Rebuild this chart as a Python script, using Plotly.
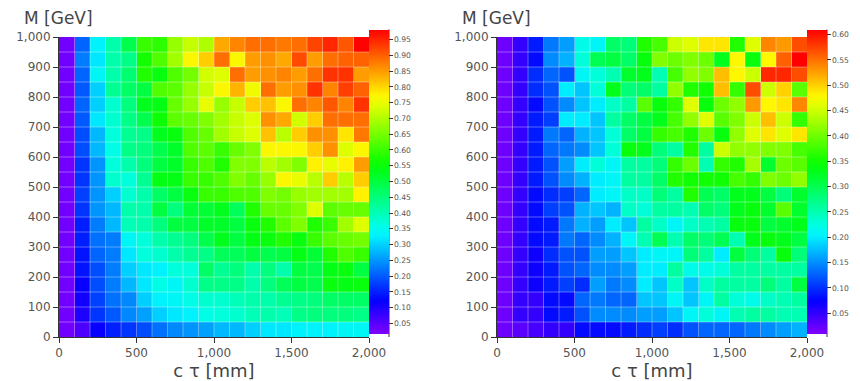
import colorsys
import plotly.graph_objects as go

# ---- data ----
ct_centers = [50 + 100 * i for i in range(20)]            # c tau bin centres [mm]
m_centers = [975 - 50 * i for i in range(20)]             # M bin centres [GeV], top row first
x_ticks = [0, 500, 1000, 1500, 2000]
y_ticks = [0, 100, 200, 300, 400, 500, 600, 700, 800, 900, 1000]
cb_ticks_left = [round(0.05 * i, 2) for i in range(1, 20)]
cb_ticks_right = [round(0.05 * i, 2) for i in range(1, 13)]

eff_left = [
    [0.03, 0.21, 0.33, 0.41, 0.49, 0.60, 0.59, 0.68, 0.72, 0.70, 0.84, 0.87, 0.89, 0.89, 0.88, 0.89, 0.925, 0.95, 0.91, 0.98],
    [0.03, 0.23, 0.32, 0.41, 0.44, 0.57, 0.62, 0.69, 0.77, 0.81, 0.89, 0.77, 0.85, 0.86, 0.84, 0.92, 0.85, 0.89, 0.90, 0.90],
    [0.03, 0.21, 0.34, 0.41, 0.46, 0.58, 0.55, 0.62, 0.65, 0.73, 0.74, 0.89, 0.85, 0.86, 0.87, 0.85, 0.89, 0.94, 0.94, 0.85],
    [0.03, 0.20, 0.30, 0.43, 0.47, 0.50, 0.62, 0.63, 0.68, 0.72, 0.77, 0.83, 0.76, 0.89, 0.85, 0.86, 0.94, 0.87, 0.93, 0.90],
    [0.03, 0.21, 0.30, 0.38, 0.45, 0.53, 0.54, 0.64, 0.68, 0.75, 0.68, 0.72, 0.81, 0.82, 0.77, 0.89, 0.87, 0.91, 0.87, 0.94],
    [0.03, 0.20, 0.32, 0.38, 0.44, 0.49, 0.56, 0.63, 0.64, 0.66, 0.69, 0.72, 0.74, 0.86, 0.84, 0.73, 0.81, 0.89, 0.89, 0.89],
    [0.03, 0.19, 0.28, 0.37, 0.43, 0.44, 0.53, 0.55, 0.62, 0.64, 0.69, 0.72, 0.74, 0.82, 0.71, 0.81, 0.86, 0.86, 0.79, 0.88],
    [0.03, 0.19, 0.28, 0.36, 0.44, 0.45, 0.49, 0.52, 0.62, 0.63, 0.60, 0.64, 0.66, 0.77, 0.77, 0.77, 0.81, 0.86, 0.74, 0.77],
    [0.03, 0.17, 0.25, 0.37, 0.41, 0.45, 0.50, 0.52, 0.60, 0.62, 0.58, 0.66, 0.66, 0.71, 0.69, 0.66, 0.78, 0.75, 0.78, 0.85],
    [0.03, 0.17, 0.25, 0.38, 0.37, 0.43, 0.54, 0.54, 0.60, 0.60, 0.62, 0.66, 0.64, 0.68, 0.77, 0.75, 0.71, 0.81, 0.71, 0.81],
    [0.03, 0.18, 0.25, 0.30, 0.38, 0.41, 0.47, 0.50, 0.55, 0.60, 0.60, 0.62, 0.62, 0.66, 0.65, 0.68, 0.69, 0.69, 0.69, 0.78],
    [0.03, 0.17, 0.25, 0.28, 0.41, 0.41, 0.50, 0.45, 0.51, 0.51, 0.53, 0.48, 0.58, 0.64, 0.64, 0.66, 0.74, 0.63, 0.64, 0.64],
    [0.03, 0.15, 0.23, 0.28, 0.40, 0.41, 0.45, 0.50, 0.50, 0.52, 0.52, 0.50, 0.55, 0.58, 0.63, 0.66, 0.58, 0.60, 0.69, 0.74],
    [0.03, 0.15, 0.22, 0.23, 0.34, 0.37, 0.41, 0.43, 0.45, 0.49, 0.53, 0.50, 0.54, 0.55, 0.58, 0.55, 0.60, 0.63, 0.64, 0.65],
    [0.03, 0.14, 0.21, 0.23, 0.32, 0.37, 0.38, 0.41, 0.43, 0.44, 0.48, 0.48, 0.50, 0.49, 0.50, 0.54, 0.51, 0.58, 0.62, 0.60],
    [0.03, 0.14, 0.19, 0.23, 0.30, 0.32, 0.33, 0.37, 0.37, 0.47, 0.43, 0.45, 0.41, 0.45, 0.41, 0.50, 0.49, 0.54, 0.55, 0.50],
    [0.03, 0.12, 0.19, 0.23, 0.28, 0.32, 0.36, 0.34, 0.38, 0.44, 0.44, 0.44, 0.41, 0.45, 0.48, 0.50, 0.49, 0.55, 0.54, 0.55],
    [0.03, 0.11, 0.18, 0.22, 0.24, 0.30, 0.33, 0.34, 0.36, 0.38, 0.38, 0.40, 0.41, 0.41, 0.43, 0.44, 0.45, 0.47, 0.47, 0.47],
    [0.03, 0.10, 0.17, 0.20, 0.24, 0.26, 0.30, 0.32, 0.33, 0.36, 0.37, 0.38, 0.40, 0.41, 0.40, 0.44, 0.45, 0.45, 0.45, 0.44],
    [0.03, 0.06, 0.12, 0.15, 0.17, 0.19, 0.22, 0.24, 0.25, 0.26, 0.28, 0.28, 0.30, 0.32, 0.32, 0.33, 0.33, 0.33, 0.34, 0.34],
]

eff_right = [
    [0.02, 0.05, 0.09, 0.14, 0.16, 0.22, 0.21, 0.29, 0.28, 0.36, 0.38, 0.45, 0.46, 0.49, 0.49, 0.36, 0.46, 0.54, 0.53, 0.57],
    [0.02, 0.05, 0.08, 0.15, 0.17, 0.23, 0.30, 0.31, 0.29, 0.34, 0.41, 0.40, 0.41, 0.40, 0.33, 0.48, 0.34, 0.48, 0.56, 0.61],
    [0.02, 0.05, 0.10, 0.13, 0.12, 0.21, 0.23, 0.25, 0.32, 0.33, 0.25, 0.38, 0.42, 0.41, 0.51, 0.48, 0.45, 0.59, 0.59, 0.57],
    [0.02, 0.05, 0.10, 0.12, 0.20, 0.18, 0.23, 0.33, 0.28, 0.29, 0.26, 0.42, 0.36, 0.35, 0.51, 0.37, 0.57, 0.45, 0.50, 0.39],
    [0.02, 0.05, 0.08, 0.12, 0.15, 0.18, 0.20, 0.24, 0.26, 0.39, 0.34, 0.37, 0.46, 0.34, 0.40, 0.42, 0.53, 0.48, 0.49, 0.54],
    [0.02, 0.05, 0.09, 0.11, 0.20, 0.20, 0.18, 0.26, 0.29, 0.31, 0.33, 0.38, 0.42, 0.46, 0.39, 0.41, 0.45, 0.51, 0.45, 0.37],
    [0.02, 0.05, 0.09, 0.14, 0.13, 0.17, 0.18, 0.23, 0.29, 0.31, 0.37, 0.38, 0.36, 0.40, 0.34, 0.42, 0.46, 0.49, 0.46, 0.49],
    [0.02, 0.05, 0.09, 0.13, 0.14, 0.15, 0.18, 0.23, 0.34, 0.33, 0.28, 0.26, 0.36, 0.26, 0.45, 0.42, 0.42, 0.41, 0.41, 0.38],
    [0.02, 0.05, 0.09, 0.12, 0.16, 0.20, 0.23, 0.21, 0.26, 0.26, 0.28, 0.37, 0.40, 0.25, 0.37, 0.36, 0.43, 0.32, 0.40, 0.39],
    [0.02, 0.05, 0.09, 0.12, 0.15, 0.17, 0.20, 0.21, 0.26, 0.26, 0.29, 0.36, 0.35, 0.35, 0.35, 0.38, 0.37, 0.41, 0.40, 0.42],
    [0.02, 0.05, 0.08, 0.10, 0.11, 0.13, 0.20, 0.21, 0.24, 0.24, 0.28, 0.26, 0.36, 0.30, 0.29, 0.33, 0.33, 0.31, 0.28, 0.32],
    [0.02, 0.05, 0.08, 0.11, 0.12, 0.17, 0.18, 0.17, 0.24, 0.23, 0.26, 0.26, 0.25, 0.29, 0.28, 0.33, 0.34, 0.32, 0.39, 0.32],
    [0.02, 0.05, 0.08, 0.09, 0.14, 0.17, 0.16, 0.20, 0.18, 0.26, 0.24, 0.21, 0.24, 0.25, 0.26, 0.34, 0.34, 0.31, 0.32, 0.33],
    [0.02, 0.05, 0.08, 0.09, 0.14, 0.13, 0.15, 0.17, 0.21, 0.25, 0.30, 0.25, 0.29, 0.28, 0.30, 0.25, 0.33, 0.34, 0.33, 0.31],
    [0.02, 0.05, 0.07, 0.10, 0.12, 0.12, 0.16, 0.16, 0.18, 0.20, 0.21, 0.21, 0.28, 0.26, 0.20, 0.31, 0.28, 0.26, 0.34, 0.28],
    [0.02, 0.05, 0.07, 0.09, 0.12, 0.13, 0.15, 0.15, 0.16, 0.20, 0.20, 0.26, 0.22, 0.22, 0.23, 0.26, 0.26, 0.26, 0.26, 0.26],
    [0.02, 0.05, 0.07, 0.09, 0.11, 0.10, 0.16, 0.14, 0.15, 0.20, 0.18, 0.24, 0.18, 0.24, 0.26, 0.26, 0.26, 0.28, 0.26, 0.31],
    [0.02, 0.05, 0.05, 0.08, 0.08, 0.13, 0.14, 0.13, 0.13, 0.18, 0.18, 0.21, 0.18, 0.21, 0.26, 0.23, 0.22, 0.24, 0.25, 0.26],
    [0.02, 0.05, 0.05, 0.08, 0.09, 0.12, 0.15, 0.15, 0.15, 0.16, 0.16, 0.18, 0.21, 0.23, 0.21, 0.25, 0.26, 0.26, 0.25, 0.25],
    [0.02, 0.03, 0.04, 0.05, 0.05, 0.08, 0.08, 0.08, 0.09, 0.10, 0.11, 0.10, 0.12, 0.13, 0.13, 0.13, 0.14, 0.15, 0.16, 0.17],
]

# ---- style ----
def hue_scale(n=28):
    stops = []
    for i in range(n + 1):
        t = i / n
        r, g, b = colorsys.hsv_to_rgb((270.0 * (1 - t)) / 360.0, 1.0, 1.0)
        stops.append([t, f"rgb({int(round(r*255))},{int(round(g*255))},{int(round(b*255))})"])
    return stops

CS = hue_scale()
FONT = "DejaVu Sans"
TICKC = "#555555"
LINEC = "#333333"

# page body adds an 8px offset, so the figure is sized to fit the remaining window
W, H = 852, 373
ML, MR, MT, MB = 51, 53, 29, 44
PW = W - ML - MR
dom_left = [0.0, 310 / PW]
dom_right = [(438) / PW, 1.0]

fig = go.Figure()

def cbar(xpos, ticks):
    return dict(
        x=xpos, xanchor="left", xpad=0, thickness=20,
        y=1.025, yanchor="top", ypad=0, len=1.013, lenmode="fraction",
        outlinewidth=0, ticks="outside", ticklen=4, tickwidth=1, tickcolor=LINEC,
        tickvals=ticks, ticktext=[f"{v:.2f}" for v in ticks],
        tickfont=dict(family=FONT, size=7.6, color=TICKC),
    )

fig.add_trace(go.Heatmap(
    x=ct_centers, y=m_centers, z=eff_left, zmin=0.018, zmax=0.982,
    colorscale=CS, colorbar=cbar(dom_left[1], cb_ticks_left),
    xaxis="x", yaxis="y", hoverinfo="skip",
))
fig.add_trace(go.Heatmap(
    x=ct_centers, y=m_centers, z=eff_right, zmin=0.01, zmax=0.61,
    colorscale=CS, colorbar=cbar(dom_right[1], cb_ticks_right),
    xaxis="x2", yaxis="y2", hoverinfo="skip",
))

def xax(dom, anchor):
    return dict(
        domain=dom, anchor=anchor, range=[0, 2000], tickvals=x_ticks, tickformat=",",
        showgrid=False, zeroline=False, showline=True, linecolor=LINEC, linewidth=1,
        ticks="outside", ticklen=5, tickcolor=LINEC,
        tickfont=dict(family=FONT, size=12, color=TICKC),
        title=dict(text="c τ [mm]", font=dict(family=FONT, size=18, color="#444444"), standoff=4),
    )

def yax(anchor):
    return dict(
        domain=[0, 1], anchor=anchor, range=[0, 1000], tickvals=y_ticks, tickformat=",",
        showgrid=False, zeroline=False, showline=True, linecolor=LINEC, linewidth=1,
        ticks="outside", ticklen=5, tickcolor=LINEC,
        tickfont=dict(family=FONT, size=12, color=TICKC),
    )

shapes = []
for xa, ya in (("x", "y"), ("x2", "y2")):
    for xv in range(100, 2000, 100):
        shapes.append(dict(type="line", xref=xa, yref=ya, x0=xv, x1=xv, y0=0, y1=1000,
                           line=dict(color="rgba(255,255,255,0.35)", width=1), layer="above"))
    for yv in range(50, 1000, 50):
        shapes.append(dict(type="line", xref=xa, yref=ya, x0=0, x1=2000, y0=yv, y1=yv,
                           line=dict(color="rgba(255,255,255,0.35)", width=1), layer="above"))

# colorbar axis lines
for xr in (dom_left[1], dom_right[1]):
    xp = xr + 20 / PW
    shapes.append(dict(type="line", xref="paper", yref="paper", x0=xp, x1=xp, y0=0, y1=1.025,
                       line=dict(color=LINEC, width=1)))

annotations = []
for d in (dom_left, dom_right):
    annotations.append(dict(
        text="M [GeV]", xref="paper", yref="paper", x=d[0] - 37 / PW, y=1.0 + 19 / 300,
        xanchor="left", yanchor="middle", showarrow=False,
        font=dict(family=FONT, size=17, color="#444444"),
    ))

fig.update_layout(
    width=W, height=H, margin=dict(l=ML, r=MR, t=MT, b=MB, autoexpand=False),
    paper_bgcolor="white", plot_bgcolor="white",
    xaxis=xax(dom_left, "y"), yaxis=yax("x"),
    xaxis2=xax(dom_right, "y2"), yaxis2=yax("x2"),
    shapes=shapes, annotations=annotations, showlegend=False,
)

fig.write_html("out.html")
